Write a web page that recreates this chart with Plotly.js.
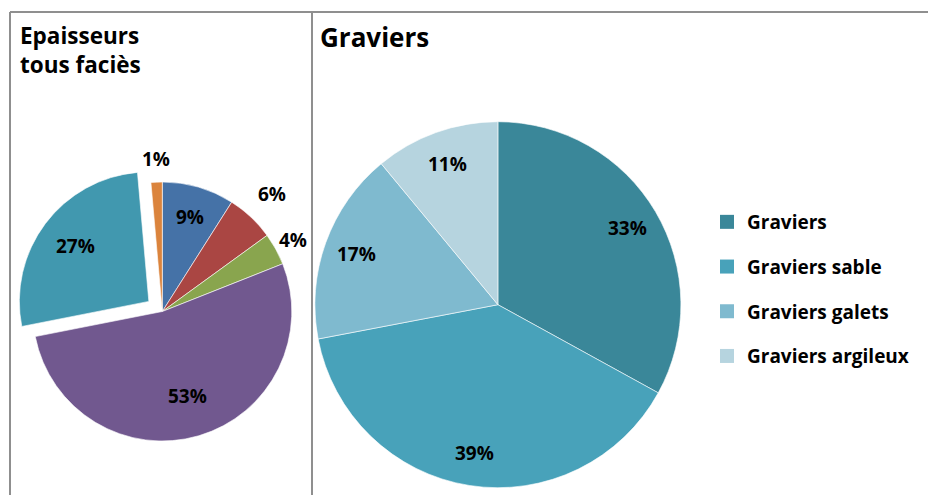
<!DOCTYPE html>
<html><head><meta charset="utf-8">
<script src="https://cdn.plot.ly/plotly-3.0.1.min.js"></script>
<style>html,body{margin:0;padding:0;background:#fff}#chart{width:928px;height:495px}</style>
</head><body><div id="chart"></div>
<script>
// ---- data ----
const leftCategories = ['Faciès 1', 'Faciès 2', 'Faciès 3', 'Faciès 4', 'Faciès 5', 'Faciès 6'];
const leftValues = [9, 6, 4, 52.9, 26.7, 1.4];
const rightCategories = ['Graviers', 'Graviers sable', 'Graviers galets', 'Graviers argileux'];
const rightValues = [33, 39, 17, 11];
const leftTitle = 'Epaisseurs<br>tous faciès';
const rightTitle = 'Graviers';

// ---- styles ----
const W = 928, H = 495;
const FONT = '"Open Sans", Lato, sans-serif';
const leftColors = ['#4572A7', '#AA4643', '#89A54E', '#71588F', '#4198AF', '#DB843D'];
const leftPull = [0, 0, 0, 0, 0.13, 0];
const rightColors = ['#3A8799', '#48A2BA', '#7FBACF', '#B6D4DF'];
const leftGeom = {cx: 162.3, cy: 311.5, r: 129.5};
const rightGeom = {cx: 497.9, cy: 304.7, r: 183};
const leftLabelR = [0.76, 1.24, 1.15, 0.68, 0.71, 1.18];
const rightLabelR = [0.82, 0.82, 0.82, 0.82];

function domainFor(g, maxPull) {
  const h = g.r * (1 + maxPull);
  return {x: [(g.cx - h) / W, (g.cx + h) / W], y: [1 - (g.cy + h) / H, 1 - (g.cy - h) / H]};
}

function labelAnnotations(values, g, factors, pulls) {
  const total = values.reduce((a, b) => a + b, 0);
  let cum = 0;
  return values.map((v, i) => {
    const mid = (cum + v / 2) / total * 2 * Math.PI;
    cum += v;
    const dx = Math.sin(mid), dy = -Math.cos(mid);
    const p = (pulls ? pulls[i] : 0) * g.r;
    const rr = factors[i] * g.r + p;
    const px = g.cx + dx * rr, py = g.cy + dy * rr;
    return {
      x: px / W, y: 1 - py / H, xref: 'paper', yref: 'paper',
      text: Math.round(v / total * 100) + '%', showarrow: false,
      xanchor: 'center', yanchor: 'middle',
      font: {family: FONT, size: 19, color: '#000', weight: 'bold'}
    };
  });
}

const leftPie = {
  type: 'pie', labels: leftCategories, values: leftValues, sort: false,
  direction: 'clockwise', rotation: 0, pull: leftPull,
  marker: {colors: leftColors, line: {color: '#ffffff', width: 0.6}},
  textinfo: 'none', showlegend: false, hoverinfo: 'label+percent',
  domain: domainFor(leftGeom, Math.max(...leftPull))
};
const rightPie = {
  type: 'pie', labels: rightCategories, values: rightValues, sort: false,
  direction: 'clockwise', rotation: 0,
  marker: {colors: rightColors, line: {color: '#ffffff', width: 0.6}},
  textinfo: 'none', showlegend: false, hoverinfo: 'label+percent',
  domain: domainFor(rightGeom, 0)
};
const legendTraces = rightCategories.map((c, i) => ({
  type: 'scatter', x: [null], y: [null], mode: 'markers', name: c,
  marker: {symbol: 'square', size: 14, color: rightColors[i]},
  legendgroup: 'g' + i, showlegend: true, hoverinfo: 'skip'
}));

const lineStyle = {color: '#8f8f8f', width: 2};
const layout = {
  width: W, height: H, margin: {l: 0, r: 0, t: 0, b: 0},
  paper_bgcolor: '#ffffff', plot_bgcolor: '#ffffff',
  xaxis: {visible: false, fixedrange: true}, yaxis: {visible: false, fixedrange: true},
  showlegend: true,
  legend: {x: 707 / W, xanchor: 'left', y: 1 - 203 / H, yanchor: 'top',
    tracegroupgap: 17, bgcolor: 'rgba(0,0,0,0)',
    font: {family: FONT, size: 19, color: '#000', weight: 'bold'}},
  shapes: [
    {type: 'line', xref: 'paper', yref: 'paper', x0: 10 / W, x1: 1, y0: 1 - 12 / H, y1: 1 - 12 / H, line: lineStyle},
    {type: 'line', xref: 'paper', yref: 'paper', x0: 10 / W, x1: 10 / W, y0: 0, y1: 1 - 12 / H, line: lineStyle},
    {type: 'line', xref: 'paper', yref: 'paper', x0: 312 / W, x1: 312 / W, y0: 0, y1: 1 - 12 / H, line: lineStyle}
  ],
  annotations: [
    {x: 18 / W, y: 1 - 18 / H, xref: 'paper', yref: 'paper', xanchor: 'left', yanchor: 'top',
     align: 'left', showarrow: false, text: leftTitle,
     font: {family: FONT, size: 22.5, color: '#000', weight: 'bold'}},
    {x: 318 / W, y: 1 - 17 / H, xref: 'paper', yref: 'paper', xanchor: 'left', yanchor: 'top',
     align: 'left', showarrow: false, text: rightTitle,
     font: {family: FONT, size: 26, color: '#000', weight: 'bold'}}
  ].concat(labelAnnotations(leftValues, leftGeom, leftLabelR, leftPull))
   .concat(labelAnnotations(rightValues, rightGeom, rightLabelR, null))
};

Plotly.newPlot('chart', [leftPie, rightPie].concat(legendTraces), layout, {displayModeBar: false, staticPlot: true});
</script>
</body></html>
